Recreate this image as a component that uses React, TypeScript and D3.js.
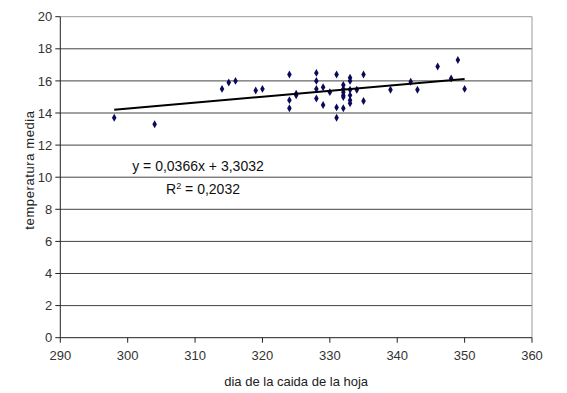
import * as d3 from 'd3'

// leaf-fall day vs. mean temperature
const DAYS = [
  298, 304, 314, 315, 316, 319, 320,
  324, 324, 324, 325, 325,
  328, 328, 328, 328, 329, 329, 330,
  331, 331, 331,
  332, 332, 332, 332, 332, 332,
  333, 333, 333, 333, 333, 333,
  334, 335, 335,
  339, 342, 343, 346, 348, 349, 350,
]
const TEMPS = [
  13.7, 13.3, 15.5, 15.9, 16.0, 15.4, 15.5,
  16.4, 14.8, 14.3, 15.2, 15.1,
  16.5, 16.0, 15.5, 14.9, 15.6, 14.5, 15.3,
  16.4, 14.35, 13.7,
  15.75, 15.5, 15.3, 15.1, 15.0, 14.3,
  16.2, 16.0, 15.45, 15.1, 14.8, 14.6,
  15.45, 16.4, 14.75,
  15.45, 15.95, 15.45, 16.9, 16.15, 17.3, 15.5,
]
const TREND = { slope: 0.0366, intercept: 3.3032, from: 298, to: 350 }
const X_TICKS = [290, 300, 310, 320, 330, 340, 350, 360]
const Y_TICKS = [0, 2, 4, 6, 8, 10, 12, 14, 16, 18, 20]
const EQUATION = 'y = 0,0366x + 3,3032'
const R2_VALUE = '= 0,2032'

const W = 567
const H = 393
const margin = { top: 16.7, right: 35, bottom: 55.3, left: 60.3 }
const FONT = '"Liberation Sans", Arial, sans-serif'

export default function App() {
  const innerW = W - margin.left - margin.right
  const innerH = H - margin.top - margin.bottom

  const x = d3.scaleLinear().domain([290, 360]).range([0, innerW])
  const y = d3.scaleLinear().domain([0, 20]).range([innerH, 0])

  const diamond = d3.symbol(d3.symbolDiamond, 18)()
  const trendLine = d3.line<number>()
    .x(d => x(d))
    .y(d => y(TREND.slope * d + TREND.intercept))

  return (
    <div style={{ position: 'absolute', left: 0, top: 0 }}>
      <svg width={W} height={H} style={{ display: 'block', background: '#fff' }}>
        <g transform={`translate(${margin.left},${margin.top})`}>
          {/* grid lines */}
          {Y_TICKS.filter(t => t > 0 && t < 20).map(t => (
            <line key={t} x1={0} x2={innerW} y1={y(t)} y2={y(t)} stroke="#444" strokeWidth={1} />
          ))}
          {/* plot border (top / right) */}
          <line x1={0} x2={innerW} y1={0} y2={0} stroke="#9a9a9a" />
          <line x1={innerW} x2={innerW} y1={0} y2={innerH} stroke="#9a9a9a" />

          {/* axes */}
          <line x1={0} x2={0} y1={0} y2={innerH} stroke="#222" />
          <line x1={0} x2={innerW} y1={innerH} y2={innerH} stroke="#222" />
          {Y_TICKS.map(t => (
            <g key={t} transform={`translate(0,${y(t)})`}>
              <line x1={-5} x2={0} stroke="#222" />
              <text x={-8} dy="0.36em" textAnchor="end" fontFamily={FONT} fontSize={13} fill="#333">
                {t}
              </text>
            </g>
          ))}
          {X_TICKS.map(t => (
            <g key={t} transform={`translate(${x(t)},${innerH})`}>
              <line y1={0} y2={5} stroke="#222" />
              <text y={22} textAnchor="middle" fontFamily={FONT} fontSize={13} fill="#333">
                {t}
              </text>
            </g>
          ))}

          {/* data points */}
          {DAYS.map((d, i) => (
            <path key={i} d={diamond} transform={`translate(${x(d)},${y(TEMPS[i])})`} fill="#0a0a5a" />
          ))}

          {/* trend line */}
          <path d={trendLine([TREND.from, TREND.to]) || ''} fill="none" stroke="#000" strokeWidth={2} />

          {/* equation */}
          <text x={198 - margin.left} y={171 - margin.top} textAnchor="middle" fontFamily={FONT} fontSize={14} fill="#111">
            {EQUATION}
          </text>
          <text x={203 - margin.left} y={194 - margin.top} textAnchor="middle" fontFamily={FONT} fontSize={14} fill="#111">
            R<tspan dy={-5} fontSize={9}>2</tspan><tspan dy={5}> {R2_VALUE}</tspan>
          </text>

          {/* axis titles */}
          <text x={innerW / 2} y={innerH + 48} textAnchor="middle" fontFamily={FONT} fontSize={13} fill="#222">
            dia de la caida de la hoja
          </text>
          <text
            transform={`translate(${34 - margin.left},${170 - margin.top}) rotate(-90)`}
            textAnchor="middle"
            fontFamily={FONT}
            fontSize={13}
            letterSpacing={0.6}
            fill="#222"
          >
            temperatura media
          </text>
        </g>
      </svg>
    </div>
  )
}
